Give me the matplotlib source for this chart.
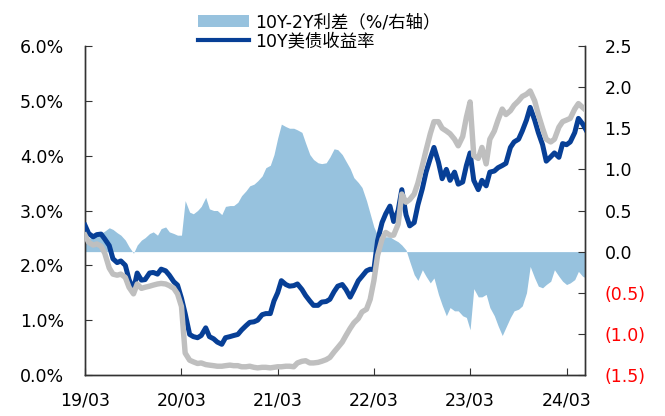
import matplotlib
matplotlib.use("Agg")
import matplotlib.pyplot as plt
import matplotlib.dates as mdates
from matplotlib.patches import Patch
from matplotlib.lines import Line2D
import pandas as pd

plt.rcParams['font.family'] = ['DejaVu Sans', 'Noto Sans CJK SC']

# semi-monthly points, 2019-03-01 .. 2024-05-15
dates = pd.date_range('2019-03-01', '2024-05-15', freq='SMS')

# 10Y yield (%), left axis
y10 = [
    # 2019 Mar-Dec
    2.73, 2.58, 2.52, 2.56, 2.57, 2.48, 2.36, 2.12, 2.05, 2.08,
    2.00, 1.74, 1.55, 1.86, 1.73, 1.74, 1.86, 1.87, 1.84, 1.93,
    # 2020
    1.90, 1.82, 1.70, 1.64, 1.40, 1.12, 0.74, 0.70, 0.68, 0.72, 0.86, 0.70,
    0.66, 0.60, 0.56, 0.68, 0.70, 0.72, 0.74, 0.82, 0.90, 0.96, 0.97, 1.00,
    # 2021
    1.10, 1.12, 1.12, 1.35, 1.50, 1.72, 1.65, 1.62, 1.63, 1.66, 1.56, 1.45,
    1.35, 1.27, 1.27, 1.33, 1.34, 1.38, 1.52, 1.62, 1.65, 1.56, 1.42, 1.55,
    # 2022
    1.72, 1.80, 1.90, 1.93, 1.92, 2.45, 2.78, 2.94, 3.08, 2.80, 3.00, 3.38,
    2.92, 2.72, 2.78, 3.10, 3.40, 3.70, 3.95, 4.15, 3.88, 3.58, 3.75, 3.55,
    # 2023
    3.70, 3.48, 3.52, 3.82, 4.05, 3.55, 3.38, 3.55, 3.45, 3.70, 3.72, 3.78,
    3.82, 3.86, 4.15, 4.25, 4.30, 4.45, 4.65, 4.88, 4.65, 4.42, 4.20, 3.90,
    # 2024 Jan-May
    3.98, 4.05, 3.97, 4.22, 4.20, 4.25, 4.42, 4.68, 4.58, 4.46,
]

# grey line (2Y yield, %), left axis
y2 = [
    2.55, 2.42, 2.37, 2.39, 2.35, 2.22, 1.95, 1.84, 1.82, 1.84,
    1.78, 1.60, 1.48, 1.66, 1.58, 1.60, 1.62, 1.64, 1.66, 1.67,
    1.66, 1.63, 1.58, 1.48, 1.25, 0.40, 0.27, 0.24, 0.21, 0.22, 0.19, 0.18,
    0.17, 0.16, 0.16, 0.17, 0.18, 0.17, 0.17, 0.15, 0.15, 0.16, 0.14, 0.13,
    0.14, 0.14, 0.13, 0.14, 0.15, 0.15, 0.16, 0.16, 0.15, 0.22, 0.25, 0.26,
    0.22, 0.22, 0.23, 0.25, 0.28, 0.32, 0.42, 0.50, 0.60, 0.72, 0.85, 0.95,
    1.03, 1.15, 1.20, 1.38, 1.72, 2.18, 2.48, 2.60, 2.55, 2.55, 2.75, 3.30,
    3.15, 3.20, 3.30, 3.50, 3.82, 4.10, 4.40, 4.62, 4.62, 4.50, 4.45, 4.40,
    4.30, 4.18, 4.35, 4.70, 4.98, 4.00, 3.95, 4.15, 3.85, 4.30, 4.45, 4.65,
    4.85, 4.75, 4.82, 4.92, 5.00, 5.08, 5.12, 5.18, 5.00, 4.75, 4.50, 4.30,
    4.25, 4.30, 4.52, 4.62, 4.65, 4.68, 4.85, 4.95, 4.88, 4.82,
]

# 10Y-2Y spread (%), right axis
spread = [
    0.18, 0.16, 0.18, 0.20, 0.22, 0.25, 0.29, 0.27, 0.23, 0.20,
    0.14, 0.06, -0.02, 0.08, 0.14, 0.17, 0.22, 0.24, 0.20, 0.28,
    0.30, 0.24, 0.22, 0.20, 0.20, 0.62, 0.48, 0.46, 0.50, 0.55, 0.66, 0.52,
    0.50, 0.50, 0.45, 0.55, 0.56, 0.56, 0.60, 0.68, 0.74, 0.80, 0.82, 0.86,
    0.92, 1.02, 1.05, 1.18, 1.38, 1.55, 1.52, 1.50, 1.50, 1.48, 1.45, 1.32,
    1.18, 1.12, 1.08, 1.07, 1.08, 1.15, 1.25, 1.24, 1.18, 1.10, 1.01, 0.90,
    0.84, 0.78, 0.62, 0.46, 0.30, 0.20, 0.16, 0.18, 0.18, 0.15, 0.12, 0.08,
    0.02, -0.12, -0.28, -0.35, -0.22, -0.30, -0.38, -0.32, -0.52, -0.65, -0.78, -0.68,
    -0.72, -0.72, -0.78, -0.80, -0.95, -0.45, -0.55, -0.55, -0.52, -0.68, -0.78, -0.90,
    -1.02, -0.92, -0.80, -0.72, -0.70, -0.66, -0.50, -0.18, -0.32, -0.42, -0.44, -0.40,
    -0.36, -0.22, -0.30, -0.36, -0.40, -0.38, -0.34, -0.24, -0.30, -0.32,
]

left_ticks = [0, 1, 2, 3, 4, 5, 6]
right_ticks = [-1.5, -1.0, -0.5, 0.0, 0.5, 1.0, 1.5, 2.0, 2.5]
x_ticks = ['2019-03-01', '2020-03-01', '2021-03-01', '2022-03-01', '2023-03-01', '2024-03-01']

c_area = '#97C2DE'
c_blue = '#073F96'
c_grey = '#BFBFBF'
spine_c = '#333333'

fig = plt.figure(figsize=(6.65, 4.16), dpi=100)
ax = fig.add_axes([85/665, 41/416, 500/665, 329/416])
ax2 = ax.twinx()
ax.set_zorder(ax2.get_zorder() + 1)
ax.patch.set_visible(False)

ax2.fill_between(dates, 0, spread, color=c_area, linewidth=0)
ax.plot(dates, y10, color=c_blue, lw=3.6, zorder=3)
ax.plot(dates, y2, color=c_grey, lw=3.9, zorder=4)

ax.set_xlim(pd.Timestamp('2019-03-01'), pd.Timestamp('2024-05-10'))
ax.set_ylim(0, 6)
ax2.set_ylim(-1.5, 2.5)

ax.set_yticks(left_ticks)
ax.set_yticklabels([f'{v:.1f}%' for v in left_ticks])
ax2.set_yticks(right_ticks)
ax2.set_yticklabels([f'({abs(v):.1f})' if v < 0 else f'{v:.1f}' for v in right_ticks])
for v, t in zip(right_ticks, ax2.get_yticklabels()):
    if v < 0:
        t.set_color('#FF0000')

ax.set_xticks(pd.to_datetime(x_ticks))
ax.xaxis.set_major_formatter(mdates.DateFormatter('%y/%m'))

ax.tick_params(axis='y', direction='in', length=5, pad=15, labelsize=12.5, color=spine_c)
ax.tick_params(axis='x', direction='in', length=5, pad=12, labelsize=12.5, color=spine_c)
ax2.tick_params(axis='y', direction='in', length=5, pad=14, labelsize=12.5, color=spine_c)

for a in (ax, ax2):
    a.spines['top'].set_visible(False)
    for s in ('left', 'right', 'bottom'):
        a.spines[s].set_color(spine_c)
        a.spines[s].set_linewidth(1.0)

handles = [Patch(facecolor=c_area, edgecolor='none'),
           Line2D([0], [0], color=c_blue, lw=3.0)]
labels = ['10Y-2Y利差（%/右轴）', '10Y美债收益率']
fig.legend(handles, labels, loc='upper center', bbox_to_anchor=(0.48, 1.0),
           frameon=False, fontsize=12.5, handlelength=2.9, handletextpad=0.35,
           labelspacing=0.05, borderpad=0.25)

fig.savefig('out.png', dpi=100)
